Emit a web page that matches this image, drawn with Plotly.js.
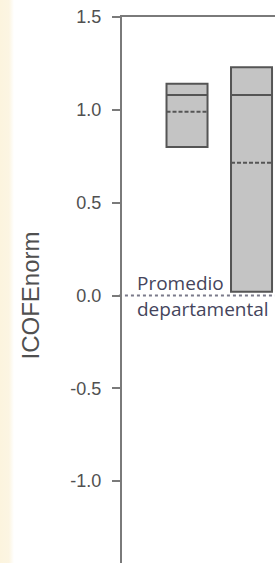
<!DOCTYPE html>
<html>
<head>
<meta charset="utf-8">
<script src="https://cdn.plot.ly/plotly-3.0.1.min.js"></script>
<style>
  html, body { margin: 0; padding: 0; width: 275px; height: 563px; overflow: hidden;
    background: linear-gradient(to right, #fcf4de 0px, #fcf5e2 9px, #ffffff 14px, #ffffff 100%); }
  #chart { width: 275px; height: 580px; }
</style>
</head>
<body>
<div id="chart"></div>
<script>
// Data
const categories = ['Grupo 1', 'Grupo 2'];
const q1Values = [0.80, 0.02];
const medianValues = [1.08, 1.08];
const q3Values = [1.14, 1.23];
const meanValues = [0.99, 0.715];
const referenceValue = 0.0;            // Promedio departamental
const referenceLabelTop = 'Promedio';
const referenceLabelBottom = 'departamental';
const yTickValues = [-1.5, -1.0, -0.5, 0.0, 0.5, 1.0, 1.5];
const yTickLabels = ['-1.5', '-1.0', '-0.5', '0.0', '0.5', '1.0', '1.5'];
const yAxisTitle = 'ICOFEnorm';

const trace = {
  type: 'box',
  x: categories,
  q1: q1Values,
  median: medianValues,
  q3: q3Values,
  mean: meanValues,
  lowerfence: q1Values,
  upperfence: q3Values,
  boxmean: true,
  boxpoints: false,
  whiskerwidth: 0,
  width: 0.636,
  fillcolor: '#c4c4c4',
  line: { color: '#555555', width: 2 },
  hoverinfo: 'skip',
  showlegend: false
};

const layout = {
  width: 275,
  height: 580,
  margin: { l: 122, r: 0, t: 17, b: 6 },
  paper_bgcolor: 'rgba(0,0,0,0)',
  plot_bgcolor: '#ffffff',
  showlegend: false,
  font: { family: 'Liberation Sans, Arial, sans-serif', color: '#555555' },
  xaxis: {
    type: 'category',
    range: [-1.008, 1.364],
    side: 'top',
    showline: true,
    linecolor: '#7a7a7a',
    linewidth: 2,
    showticklabels: false,
    ticks: '',
    showgrid: false,
    zeroline: false,
    fixedrange: true
  },
  yaxis: {
    range: [-1.5, 1.5],
    tickmode: 'array',
    tickvals: yTickValues,
    ticktext: yTickLabels,
    ticks: 'outside',
    ticklen: 8,
    tickwidth: 2,
    tickcolor: '#7a7a7a',
    tickfont: { size: 18, color: '#505050', family: 'Liberation Sans, Arial, sans-serif' },
    ticklabelstandoff: 7,
    showline: true,
    linecolor: '#7a7a7a',
    linewidth: 2,
    showgrid: false,
    zeroline: false,
    title: { text: yAxisTitle, standoff: 24, font: { size: 24, color: '#505050', family: 'Liberation Sans, Arial, sans-serif' } },
    fixedrange: true
  },
  shapes: [{
    type: 'line', xref: 'paper', x0: -0.02, x1: 1, yref: 'y', y0: referenceValue, y1: referenceValue,
    line: { color: '#7a7a8a', width: 2, dash: 'dot' }, layer: 'below'
  }],
  annotations: [
    { xref: 'paper', x: 0.085, xanchor: 'left', yref: 'y', y: referenceValue, yanchor: 'bottom', yshift: -2,
      text: referenceLabelTop, showarrow: false, font: { family: 'Open Sans, sans-serif', size: 19, color: '#45455c' } },
    { xref: 'paper', x: 0.085, xanchor: 'left', yref: 'y', y: referenceValue, yanchor: 'top', yshift: 2,
      text: referenceLabelBottom, showarrow: false, font: { family: 'Open Sans, sans-serif', size: 19, color: '#45455c' } }
  ]
};

Plotly.newPlot('chart', [trace], layout, { staticPlot: true, displayModeBar: false });
</script>
</body>
</html>
